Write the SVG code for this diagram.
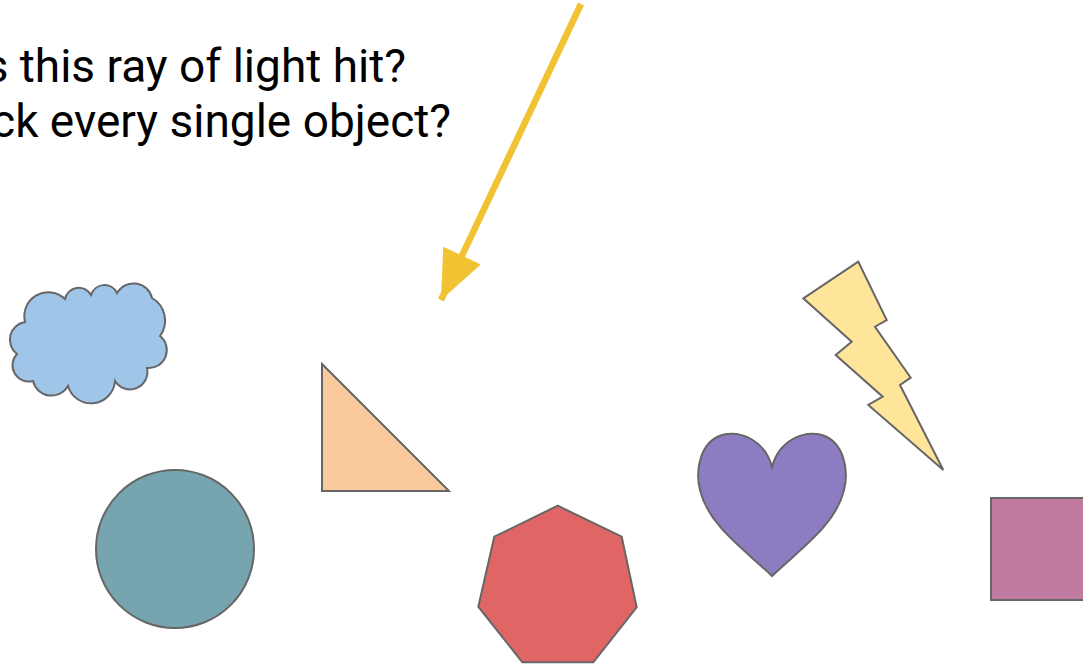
<svg xmlns="http://www.w3.org/2000/svg" width="1083" height="666" viewBox="0 0 1083 666">
<style>
.s{stroke:#666666;stroke-width:2;stroke-linejoin:miter}
.t{font-family:Roboto,"Liberation Sans",sans-serif;font-size:46px;fill:#000000;text-anchor:end}
</style>
<defs>
<marker id="ah" markerUnits="userSpaceOnUse" markerWidth="60" markerHeight="60" refX="0" refY="0" viewBox="-50 -25 55 50" orient="auto">
<path d="M0,0 L-45,-19 L-45,19 Z" fill="#f1c232"/>
</marker>
</defs>
<rect width="1083" height="666" fill="#ffffff"/>
<g id="question">
<text class="t" x="406" y="82">s this ray of light hit?</text>
<text class="t" x="451" y="137">ck every single object?</text>
</g>
<g id="cloud">
<path class="s" fill="#9fc5e8" d="M25,322 A24,24 0 0,1 65,299 A14,14 0 0,1 91,295 A14,14 0 0,1 117,293 A19,19 0 0,1 152,298 A26,26 0 0,1 160,336 A18,18 0 0,1 147,368 A17.5,17.5 0 0,1 115,381 A24,24 0 0,1 68,386 A19,19 0 0,1 33,381 A16.3,16.3 0 0,1 17,354 A17.9,17.9 0 0,1 25,322 Z"/>
</g>
<g id="circle">
<circle class="s" cx="175" cy="549" r="79" fill="#76a5af"/>
</g>
<g id="triangle">
<path class="s" fill="#f9cb9c" d="M322,364 L322,491 L449,491 Z"/>
</g>
<g id="heptagon">
<path class="s" fill="#e06666" d="M557.7,505.7 L621.7,536.7 L636.7,607.3 L593.3,662.3 L522.3,662.3 L478.3,606.7 L494.3,536.7 Z"/>
</g>
<g id="heart">
<path class="s" fill="#8e7cc3" d="M772,467 C765,440 740,430 722,435 C700,442 695,470 700,490 C708,525 745,550 772,576 C799,550 836,525 844,490 C849,470 844,442 822,435 C804,430 779,440 772,467 Z"/>
</g>
<g id="lightning">
<path class="s" fill="#ffe599" d="M858.3,261.7 L803.3,298.3 L851.7,341.7 L835.7,355 L882.7,396.7 L868.3,405 L943.3,470 L900,385 L910.7,377.7 L875,326.7 L886.7,320 Z"/>
</g>
<g id="square">
<rect class="s" x="991" y="498" width="100" height="102" fill="#c27ba0"/>
</g>
<g id="connectors">
<line x1="581" y1="4" x2="441" y2="300" stroke="#f1c232" stroke-width="6.5" marker-end="url(#ah)"/>
</g>
</svg>
